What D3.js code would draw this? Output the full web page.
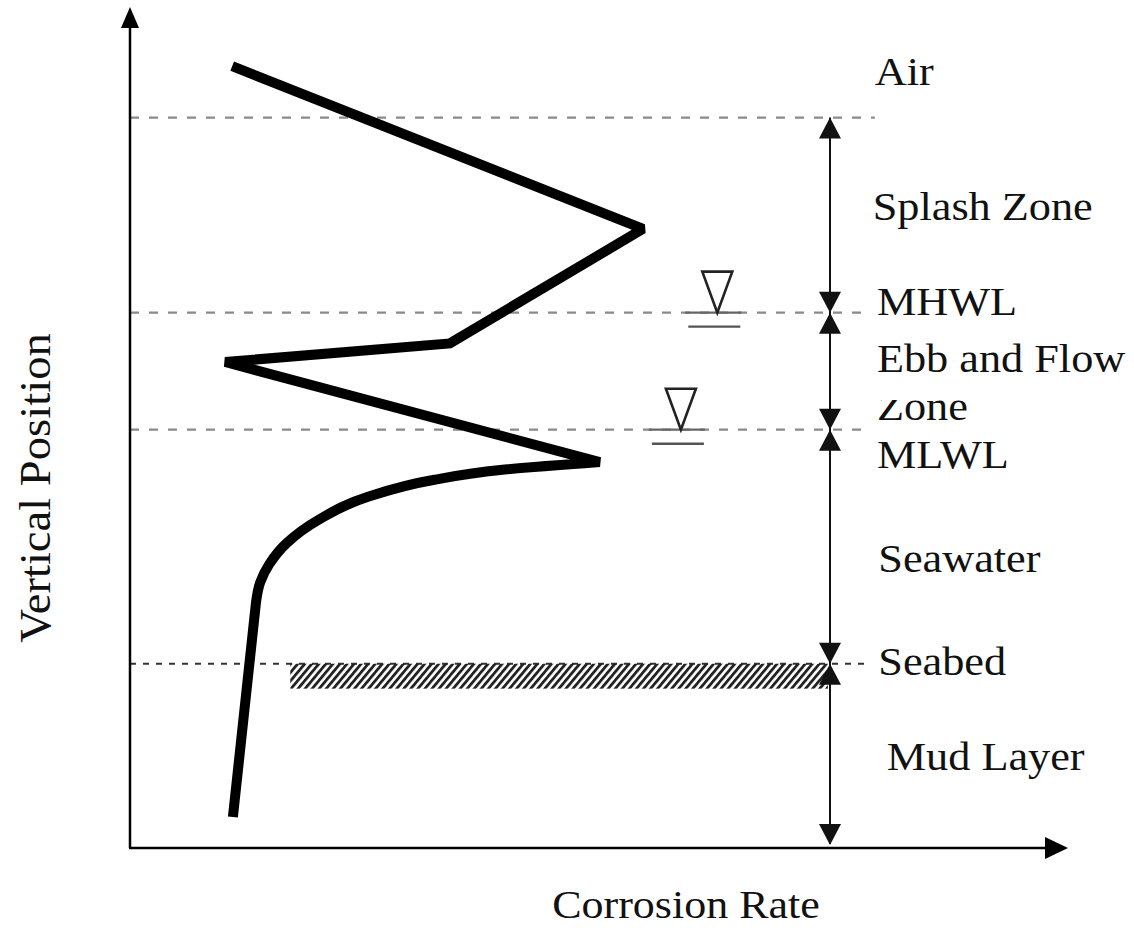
<!DOCTYPE html>
<html>
<head>
<meta charset="utf-8">
<script src="https://cdn.jsdelivr.net/npm/d3@7"></script>
<style>
  body { margin: 0; background: #fff; }
  text { font-family: "Liberation Serif", "Times New Roman", serif; fill: #111; }
</style>
</head>
<body>
<svg id="chart" width="1134" height="928"></svg>
<script>
// corrosion profile, zig-zag part (rate, vertical position)
const zigRate = [1.46, 7.33, 4.57, 1.36, 6.71];
const zigPos = [94.2, 74.6, 60.8, 58.55, 46.5];
// smooth part below MLWL, ending in the knee above the seabed
const lowRate = [6.71, 5.29, 4.33, 3.39, 2.69, 2.24, 1.99, 1.86, 1.80];
const lowPos = [46.5, 45.54, 44.34, 42.29, 39.52, 36.75, 34.2, 32.0, 29.6];
// straight run through the mud layer
const mudRate = [1.80, 1.47];
const mudPos = [29.6, 3.73];

// reference levels
const levelNames = ["Seabed", "MLWL", "MHWL", "Splash top"];
const levelPos = [22.2, 50.4, 64.5, 88.0];
const levelEnd = [10.58, 10.58, 10.58, 10.64];

// water level markers (MHWL, MLWL)
const markerRate = [8.39, 7.87];
const markerPos = [64.5, 50.4];

// seabed hatch
const hatchRate = [2.29, 9.97];
const hatchPos = [22.2, 19.2];

// zone labels
const labelText = ["Air", "Splash Zone", "MHWL", "Ebb and Flow", "Zone", "MLWL", "Seawater", "Seabed", "Mud Layer"];
const labelRate = [10.64, 10.61, 10.67, 10.67, 10.67, 10.67, 10.69, 10.69, 10.81];
const labelPos = [91.9, 75.7, 64.2, 57.3, 51.6, 45.8, 33.3, 20.8, 9.4];

var svg = d3.select("#chart");
var x = d3.scaleLinear().domain([0, 10]).range([130, 830]);
var y = d3.scaleLinear().domain([0, 100]).range([848, 18]);

// hatch pattern for the seabed
var defs = svg.append("defs");
defs.append("pattern")
    .attr("id", "hatch")
    .attr("patternUnits", "userSpaceOnUse")
    .attr("width", 5.4).attr("height", 10)
    .attr("patternTransform", "rotate(40)")
    .append("rect")
    .attr("width", 2.8).attr("height", 10)
    .attr("fill", "#222");
defs.append("clipPath").attr("id", "zoneClip")
    .append("rect").attr("x", 800).attr("y", 400).attr("width", 334).attr("height", 60);

// dashed level lines
svg.selectAll(".level")
    .data(levelPos)
    .enter()
    .append("line")
    .attr("class", "level")
    .attr("x1", x(0))
    .attr("x2", function (d, i) { return x(levelEnd[i]); })
    .attr("y1", function (d) { return y(d); })
    .attr("y2", function (d) { return y(d); })
    .attr("stroke", function (d, i) { return i === 0 ? "#333" : "#8a8a8a"; })
    .attr("stroke-width", function (d, i) { return i === 0 ? 1.8 : 2.2; })
    .attr("stroke-dasharray", function (d, i) { return i === 0 ? "6,7" : "9,10"; });

// seabed hatch bar
svg.append("rect")
    .attr("x", x(hatchRate[0]))
    .attr("y", y(hatchPos[0]))
    .attr("width", x(hatchRate[1]) - x(hatchRate[0]))
    .attr("height", y(hatchPos[1]) - y(hatchPos[0]))
    .attr("fill", "url(#hatch)");

// water level symbols
markerRate.forEach(function (r, i) {
    var cx = x(r), cy = y(markerPos[i]);
    svg.append("line")
        .attr("x1", cx - 32).attr("x2", cx + 24)
        .attr("y1", cy).attr("y2", cy)
        .attr("stroke", "#666").attr("stroke-width", 2.2);
    svg.append("path")
        .attr("d", "M" + (cx - 15) + "," + (cy - 41) + "L" + (cx + 15) + "," + (cy - 41) + "L" + cx + "," + cy + "Z")
        .attr("fill", "none").attr("stroke", "#222").attr("stroke-width", 2.6)
        .attr("stroke-linejoin", "miter");
    svg.append("line")
        .attr("x1", cx - 29).attr("x2", cx + 23)
        .attr("y1", cy + 14).attr("y2", cy + 14)
        .attr("stroke", "#555").attr("stroke-width", 2.4);
});

// vertical zone arrows
var arrowX = x(10);
var stops = [0].concat(levelPos.slice()).sort(function (a, b) { return a - b; });
svg.append("line")
    .attr("x1", arrowX).attr("x2", arrowX)
    .attr("y1", y(stops[stops.length - 1])).attr("y2", y(stops[0]) - 4)
    .attr("stroke", "#111").attr("stroke-width", 2);

function head(px, py, dir, w, h) {
    // dir: 1 pointing down, -1 pointing up, tip at (px, py)
    return "M" + px + "," + py + "L" + (px - w / 2) + "," + (py - dir * h) + "L" + (px + w / 2) + "," + (py - dir * h) + "Z";
}
for (var i = 0; i < stops.length - 1; i++) {
    var lo = y(stops[i]) - (i === 0 ? 3 : 0), hi = y(stops[i + 1]);
    svg.append("path").attr("d", head(arrowX, lo, 1, 22, 21)).attr("fill", "#111");
    svg.append("path").attr("d", head(arrowX, hi, -1, 22, 21)).attr("fill", "#111");
}

// corrosion profile
var zigPts = zigRate.map(function (r, i) { return [x(r), y(zigPos[i])]; });
var lowPts = lowRate.map(function (r, i) { return [x(r), y(lowPos[i])]; });
var mudPts = mudRate.map(function (r, i) { return [x(r), y(mudPos[i])]; });
var lineLin = d3.line();
var lineLow = d3.line().curve(d3.curveMonotoneY);
var dPath = lineLin(zigPts) + lineLow(lowPts).replace(/^M/, "L") + lineLin(mudPts).replace(/^M/, "L");
svg.append("path")
    .attr("d", dPath)
    .attr("fill", "none")
    .attr("stroke", "#000")
    .attr("stroke-width", 10)
    .attr("stroke-linejoin", "miter")
    .attr("stroke-miterlimit", 1.6);

// axes with arrow heads
svg.append("line")
    .attr("x1", x(0)).attr("x2", x(0))
    .attr("y1", y(0)).attr("y2", 24)
    .attr("stroke", "#000").attr("stroke-width", 2.5);
svg.append("path").attr("d", head(x(0), 7, -1, 18, 21)).attr("fill", "#000");
svg.append("line")
    .attr("x1", x(0) - 1).attr("x2", 1050)
    .attr("y1", y(0)).attr("y2", y(0))
    .attr("stroke", "#000").attr("stroke-width", 2.5);
svg.append("path")
    .attr("d", "M1068," + y(0) + "L1045," + (y(0) - 11) + "L1045," + (y(0) + 11) + "Z")
    .attr("fill", "#000");

// zone labels
svg.selectAll(".zone-label")
    .data(labelText)
    .enter()
    .append("text")
    .attr("class", "zone-label")
    .attr("transform", function (d, i) {
        return "translate(" + x(labelRate[i]) + "," + y(labelPos[i]) + ") scale(1.08,1)";
    })
    .style("font-size", "41px")
    .text(function (d) { return d; });

// "Zone" is partly hidden by the MLWL line in the original, clip its top
svg.selectAll(".zone-label").filter(function (d) { return d === "Zone"; })
    .each(function () {
        var g = svg.append("g").attr("clip-path", "url(#zoneClip)");
        g.node().appendChild(this);
    });

// axis titles
svg.append("text")
    .attr("transform", "translate(50,488) rotate(-90) scale(1.06,1)")
    .attr("text-anchor", "middle")
    .style("font-size", "44px")
    .text("Vertical Position");
svg.append("text")
    .attr("transform", "translate(686,918) scale(1.1,1)")
    .attr("text-anchor", "middle")
    .style("font-size", "40px")
    .text("Corrosion Rate");
</script>
</body>
</html>
